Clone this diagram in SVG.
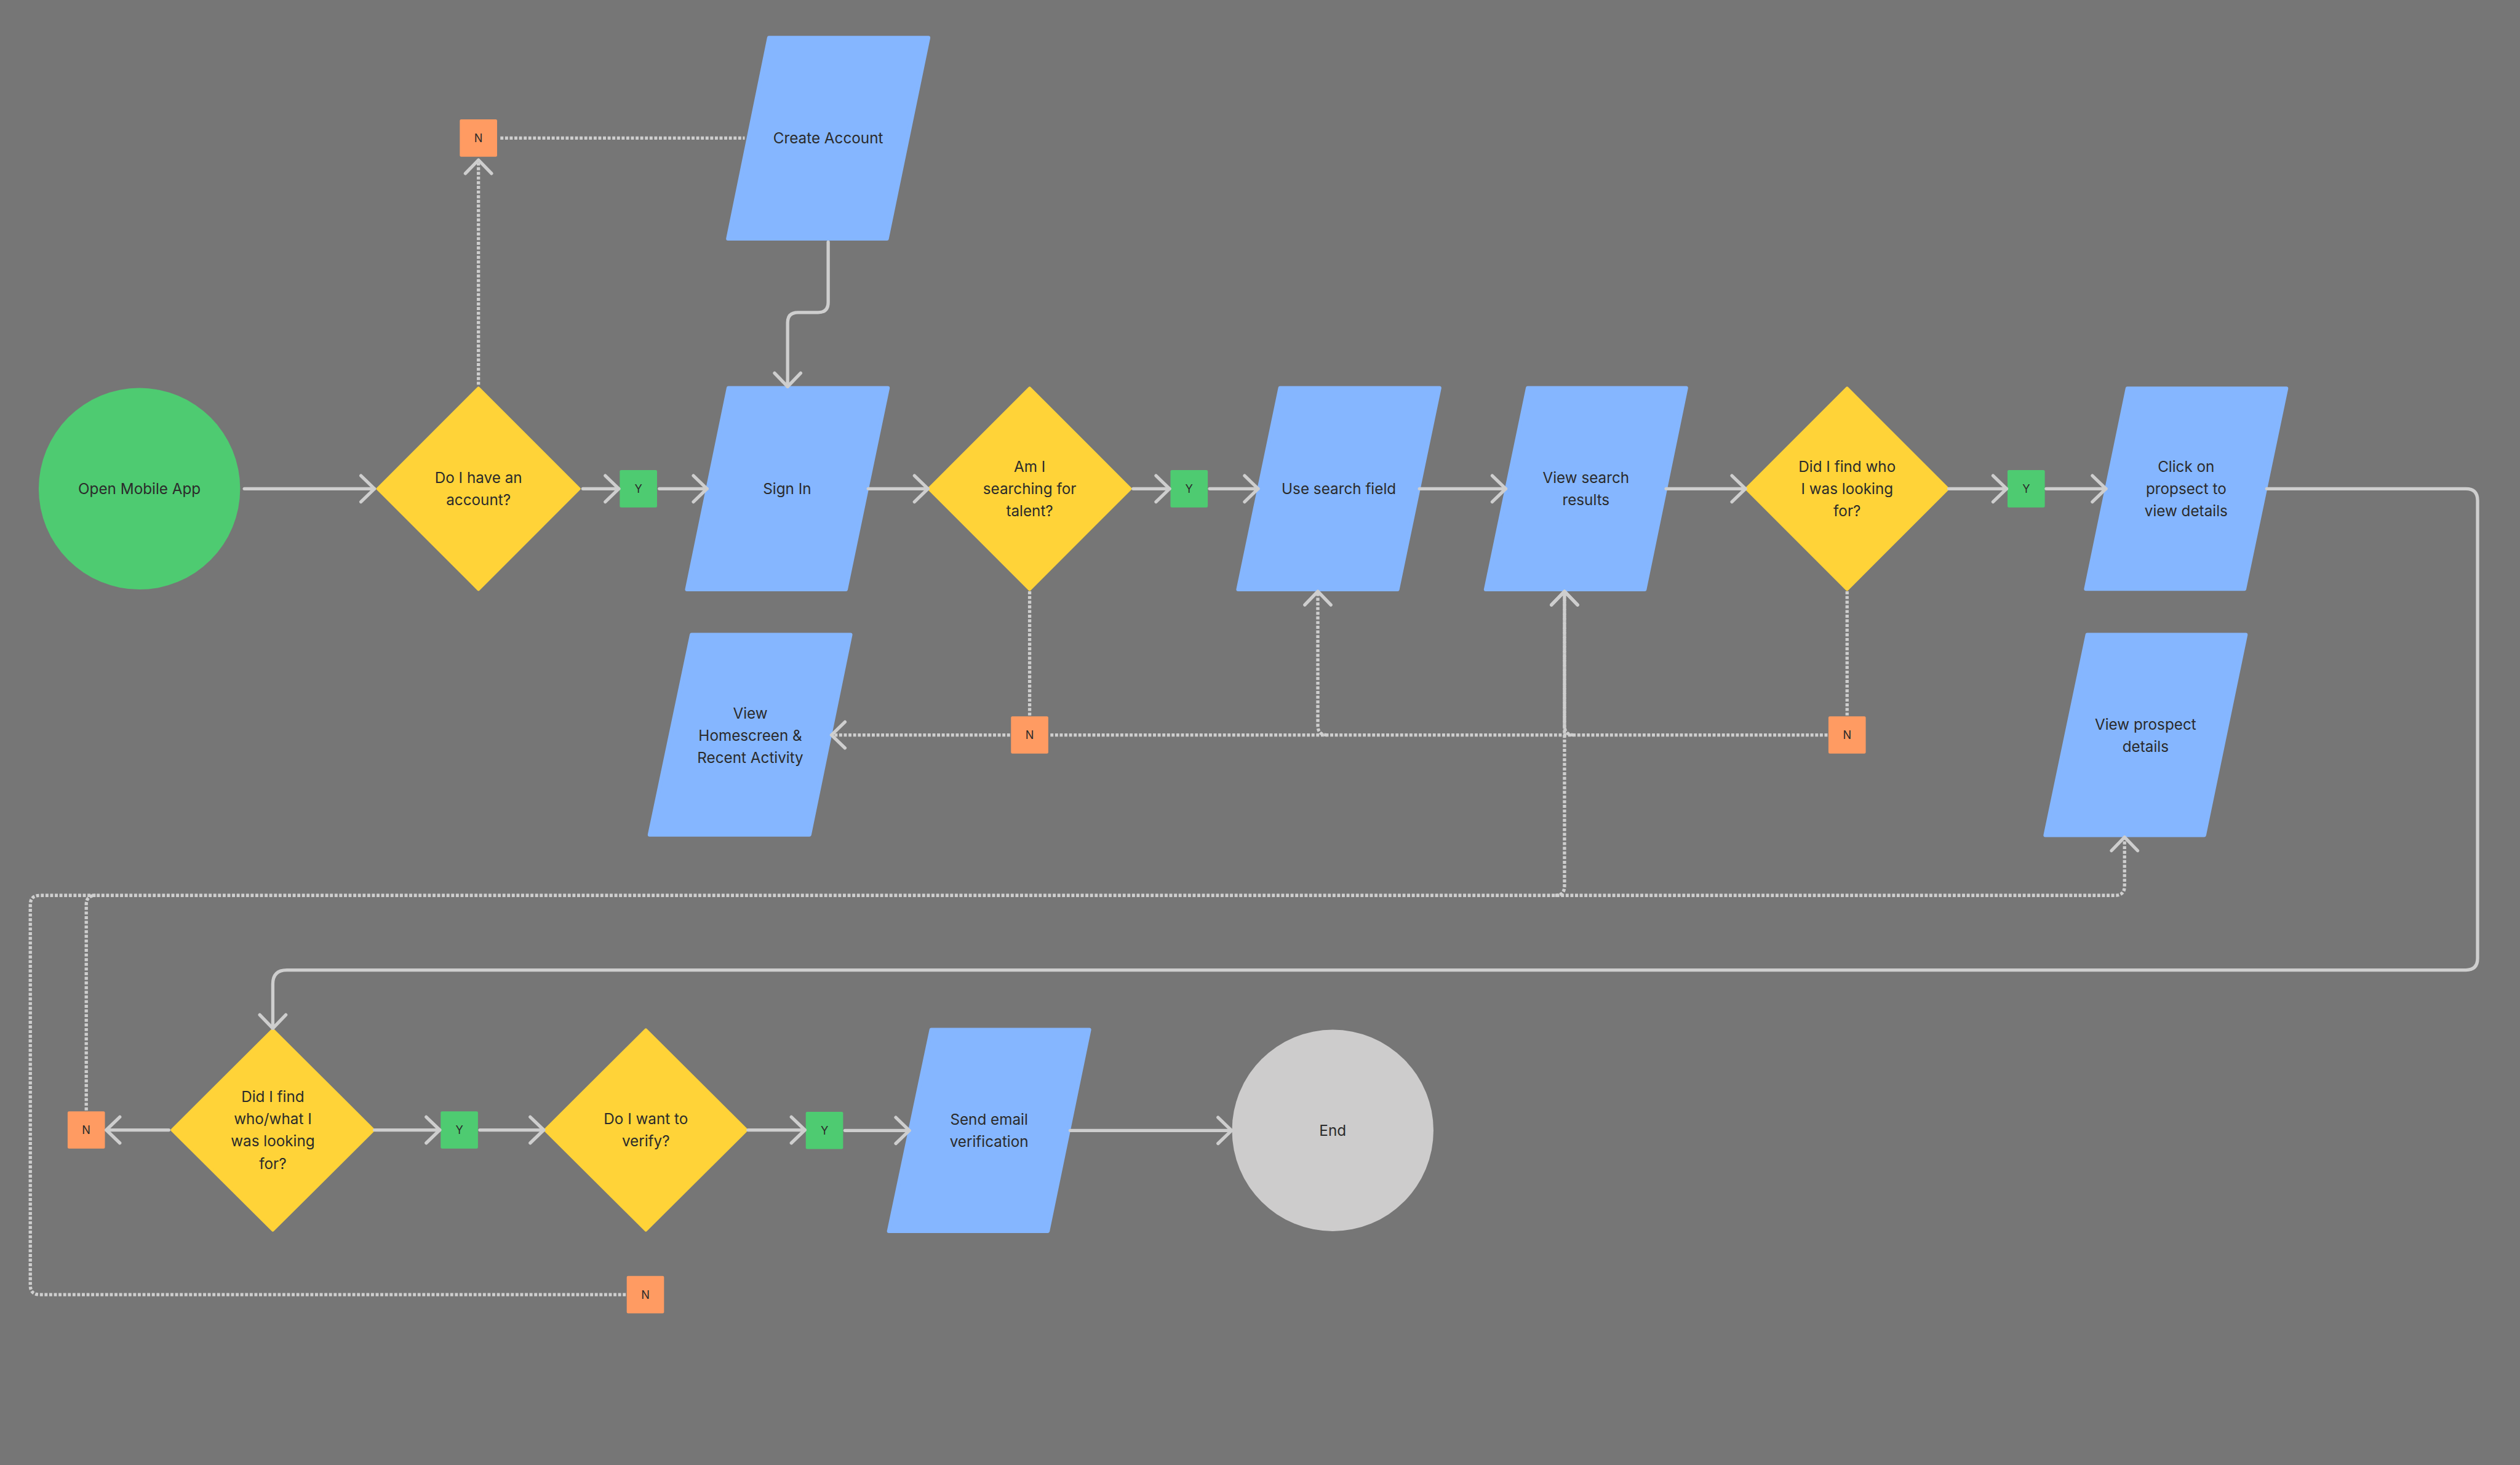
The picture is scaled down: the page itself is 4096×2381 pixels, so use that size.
<svg xmlns="http://www.w3.org/2000/svg" width="4096" height="2381" viewBox="0 0 4096 2381">
<defs>
<style>
.bg{fill:#767676}
.start{fill:#4ECB71}
.end{fill:#CDCCCC}
.dec{fill:#FFD338;stroke:#FFD338;stroke-width:6;stroke-linejoin:round}
.proc{fill:#85B6FF;stroke:#85B6FF;stroke-width:8;stroke-linejoin:round}
.yes{fill:#4ECB71}
.no{fill:#FF9B62}
.t{font-family:Inter,'Liberation Sans',sans-serif;font-size:32px;fill:#2B2B2B;text-anchor:middle}
.lt{font-family:Inter,'Liberation Sans',sans-serif;font-size:24px;fill:#2B2B2B;text-anchor:middle}
.c{fill:none;stroke:#CECECE;stroke-width:7;stroke-linecap:round;stroke-linejoin:round}
.d{fill:none;stroke:#CECECE;stroke-width:7;stroke-dasharray:6.5 3.5}
</style>
<marker id="arr" markerUnits="userSpaceOnUse" viewBox="-40 -40 80 80" markerWidth="80" markerHeight="80" refX="0" refY="0" orient="auto">
<path d="M-29,-28 L0,0 L-29,28" fill="none" stroke="#CECECE" stroke-width="7" stroke-linecap="round" stroke-linejoin="round"/>
</marker>
</defs>
<rect class="bg" x="0" y="0" width="4096" height="2381"/>
<g transform="scale(0.757957)">

<g id="n-open"><circle class="start" cx="299" cy="1048" r="216"/><text class="t" x="299" y="1059.5">Open Mobile App</text></g>

<g id="n-have-account"><polygon class="dec" points="1026,832 1242,1048 1026,1264 810,1048"/><text class="t" x="1026" y="1035.5">Do I have an</text><text class="t" x="1026" y="1083.5">account?</text></g>

<g id="n-no1"><rect class="no" x="986" y="256" width="80" height="80" rx="3"/><text class="lt" x="1026" y="304.7">N</text></g>

<g id="n-create"><polygon class="proc" points="1649,81 1991,81 1902,512 1561,512"/><text class="t" x="1776" y="307.5">Create Account</text></g>

<g id="n-yes1"><rect class="yes" x="1329" y="1008" width="80" height="80" rx="3"/><text class="lt" x="1369" y="1056.7">Y</text></g>

<g id="n-signin"><polygon class="proc" points="1562,832 1904,832 1814,1264 1473,1264"/><text class="t" x="1688" y="1059.5">Sign In</text></g>

<g id="n-talent"><polygon class="dec" points="2208,832 2424,1048 2208,1264 1992,1048"/><text class="t" x="2208" y="1011.5">Am I</text><text class="t" x="2208" y="1059.5">searching for</text><text class="t" x="2208" y="1107.5">talent?</text></g>

<g id="n-no2"><rect class="no" x="2168" y="1536" width="80" height="80" rx="3"/><text class="lt" x="2208" y="1584.7">N</text></g>

<g id="n-home"><polygon class="proc" points="1483,1361 1824,1361 1736,1790 1393,1790"/><text class="t" x="1609" y="1540.5">View</text><text class="t" x="1609" y="1588.5">Homescreen &amp;</text><text class="t" x="1609" y="1636.5">Recent Activity</text></g>

<g id="n-yes2"><rect class="yes" x="2510" y="1008" width="80" height="80" rx="3"/><text class="lt" x="2550" y="1056.7">Y</text></g>

<g id="n-search"><polygon class="proc" points="2745,832 3087,832 2997,1264 2655,1264"/><text class="t" x="2871" y="1059.5">Use search field</text></g>

<g id="n-results"><polygon class="proc" points="3276,832 3616,832 3527,1264 3186,1264"/><text class="t" x="3401" y="1035.5">View search</text><text class="t" x="3401" y="1083.5">results</text></g>

<g id="n-found1"><polygon class="dec" points="3961,832 4177,1048 3961,1264 3745,1048"/><text class="t" x="3961" y="1011.5">Did I find who</text><text class="t" x="3961" y="1059.5">I was looking</text><text class="t" x="3961" y="1107.5">for?</text></g>

<g id="n-no3"><rect class="no" x="3921" y="1536" width="80" height="80" rx="3"/><text class="lt" x="3961" y="1584.7">N</text></g>

<g id="n-yes3"><rect class="yes" x="4305" y="1008" width="80" height="80" rx="3"/><text class="lt" x="4345" y="1056.7">Y</text></g>

<g id="n-click"><polygon class="proc" points="4562,833 4903,833 4813,1263 4473,1263"/><text class="t" x="4688" y="1011.5">Click on</text><text class="t" x="4688" y="1059.5">propsect to</text><text class="t" x="4688" y="1107.5">view details</text></g>

<g id="n-prospect"><polygon class="proc" points="4476,1361 4816,1361 4727,1791 4386,1791"/><text class="t" x="4601" y="1564.5">View prospect</text><text class="t" x="4601" y="1612.5">details</text></g>

<g id="n-found2"><polygon class="dec" points="585,2208 801,2423 585,2638 369,2423"/><text class="t" x="585" y="2362.5">Did I find</text><text class="t" x="585" y="2410.5">who/what I</text><text class="t" x="585" y="2458.5">was looking</text><text class="t" x="585" y="2506.5">for?</text></g>

<g id="n-no4"><rect class="no" x="145" y="2383" width="80" height="80" rx="3"/><text class="lt" x="185" y="2431.7">N</text></g>

<g id="n-yes4"><rect class="yes" x="945" y="2383" width="80" height="80" rx="3"/><text class="lt" x="985" y="2431.7">Y</text></g>

<g id="n-verify"><polygon class="dec" points="1385,2208 1601,2423 1385,2638 1169,2423"/><text class="t" x="1385" y="2410.5">Do I want to</text><text class="t" x="1385" y="2458.5">verify?</text></g>

<g id="n-no5"><rect class="no" x="1344" y="2736" width="80" height="80" rx="3"/><text class="lt" x="1384" y="2784.7">N</text></g>

<g id="n-yes5"><rect class="yes" x="1728" y="2384" width="80" height="80" rx="3"/><text class="lt" x="1768" y="2432.7">Y</text></g>

<g id="n-email"><polygon class="proc" points="1997,2208 2336,2208 2247,2640 1906,2640"/><text class="t" x="2121" y="2411.5">Send email</text><text class="t" x="2121" y="2459.5">verification</text></g>

<g id="n-end"><circle class="end" cx="2858" cy="2424" r="216"/><text class="t" x="2858" y="2435.5">End</text></g>

<g id="connectors">
<path class="c" marker-end="url(#arr)" d="M524,1048 L803,1048"/>
<path class="c" marker-end="url(#arr)" d="M1250,1048 L1327,1048"/>
<path class="c" marker-end="url(#arr)" d="M1414,1048 L1516,1048"/>
<path class="c" marker-end="url(#arr)" d="M1862,1048 L1990,1048"/>
<path class="c" marker-end="url(#arr)" d="M2430,1048 L2508,1048"/>
<path class="c" marker-end="url(#arr)" d="M2594,1048 L2698,1048"/>
<path class="c" marker-end="url(#arr)" d="M3044,1048 L3229,1048"/>
<path class="c" marker-end="url(#arr)" d="M3573,1048 L3743,1048"/>
<path class="c" marker-end="url(#arr)" d="M4179,1048 L4303,1048"/>
<path class="c" marker-end="url(#arr)" d="M4388,1048 L4516,1048"/>
<path class="c" marker-end="url(#arr)" d="M4861,1048 L5288,1048 Q5313,1048 5313,1073 L5313,2055 Q5313,2080 5288,2080 L615,2080 Q585,2080 585,2110 L585,2205"/>
<path class="c" marker-end="url(#arr)" d="M1776,519 L1776,648 Q1776,670 1754,670 L1711,670 Q1689,670 1689,692 L1689,829"/>
<path class="c" marker-end="url(#arr)" d="M362,2423 L228,2423"/>
<path class="c" marker-end="url(#arr)" d="M803,2423 L943,2423"/>
<path class="c" marker-end="url(#arr)" d="M1029,2423 L1166,2423"/>
<path class="c" marker-end="url(#arr)" d="M1604,2423 L1726,2423"/>
<path class="c" marker-end="url(#arr)" d="M1812,2424 L1950,2424"/>
<path class="c" marker-end="url(#arr)" d="M2295,2424 L2641,2424"/>

<path class="d" marker-end="url(#arr)" d="M1026,825 L1026,343"/>
<path class="d" d="M1073,296 L1597,296"/>
<path class="d" d="M2208,1268 L2208,1534"/>
<path class="d" marker-end="url(#arr)" d="M2166,1576 L1783,1576"/>
<path class="d" d="M3961,1268 L3961,1534"/>
<path class="d" d="M3919,1576 L2250,1576"/>
<path class="d" marker-end="url(#arr)" d="M2846,1576 Q2826,1576 2826,1556 L2826,1268"/>
<path class="d" marker-end="url(#arr)" d="M3375,1576 Q3355,1576 3355,1556 L3355,1268"/>
<path class="d" d="M185,2381 L185,1940 Q185,1920 205,1920"/>
<path class="d" marker-end="url(#arr)" d="M3335,1920 Q3355,1920 3355,1900 L3355,1268"/>
<path class="d" marker-end="url(#arr)" d="M1342,2776 L85,2776 Q65,2776 65,2756 L65,1940 Q65,1920 85,1920 L4536,1920 Q4556,1920 4556,1900 L4556,1795"/>
</g>
</g>
</svg>
